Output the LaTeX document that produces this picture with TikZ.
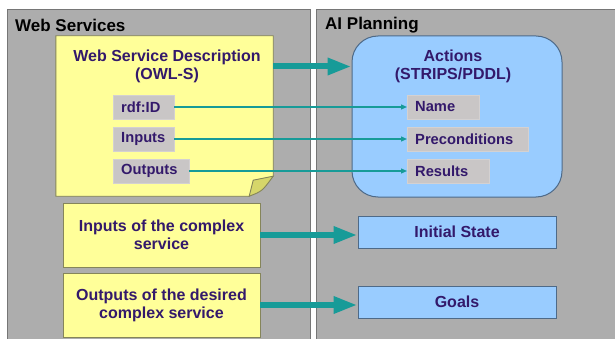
\documentclass[tikz,border=0pt]{standalone}
\usepackage{fontspec}
\setmainfont{Liberation Sans}
\usepackage{tikz}
\usetikzlibrary{arrows.meta,positioning}
\definecolor{panelgray}{HTML}{ADADAD}
\definecolor{paneledge}{HTML}{767676}
\definecolor{noteyellow}{HTML}{FFFF99}
\definecolor{noteedge}{HTML}{85855A}
\definecolor{flapyellow}{HTML}{D6D66A}
\definecolor{planblue}{HTML}{99CCFF}
\definecolor{planedge}{HTML}{4E6A88}
\definecolor{fieldgray}{HTML}{C9C6C6}
\definecolor{inkpurple}{HTML}{33196B}
\definecolor{teal}{HTML}{179B98}

\begin{document}
\begin{tikzpicture}[x=1pt, y=-1pt,
	panel/.style={fill=panelgray, draw=paneledge, line width=0.8pt},
	header/.style={anchor=west, inner sep=0pt, font=\fontsize{17}{19}\selectfont\bfseries},
	boxtext/.style={text=inkpurple, align=center, font=\fontsize{16}{18}\selectfont\bfseries},
	note/.style={minimum width=217pt, minimum height=160pt, inner sep=0pt},
	yellowbox/.style={boxtext, fill=noteyellow, draw=noteedge, line width=0.9pt, minimum width=197pt, minimum height=64pt},
	bluebox/.style={boxtext, fill=planblue, draw=planedge, line width=1pt, minimum width=198pt, minimum height=32pt},
	field/.style={anchor=west, fill=fieldgray, draw=fieldgray!80!white, text=inkpurple, align=left, inner xsep=8pt, minimum height=24pt, font=\fontsize{14.7}{16}\selectfont\bfseries},
	bigarrow/.style={draw=teal, line width=6pt, -{Triangle[length=24pt,width=16pt]}},
	thinarrow/.style={draw=teal, line width=1.3pt, -{Triangle[length=6pt,width=5pt]}}]
\useasboundingbox[fill=white] (0,0) rectangle (615,339);
\filldraw[panel] (7,9) rectangle (310,345);
\filldraw[panel] (316,9) rectangle (622,345);
\node[header] (websvc) at (15,25) {Web Services};
\node[header] (aiplan) at (325,25) {AI Planning};

% note with folded corner
\node[note] (wsd) at (164.5,116) {};
\filldraw[fill=noteyellow, draw=noteedge, line width=0.9pt] (wsd.north west) -- (wsd.north east) -- ([yshift=20pt]wsd.south east) -- ([xshift=-24pt]wsd.south east) -- (wsd.south west) -- cycle;
\filldraw[fill=flapyellow, draw=noteedge, line width=0.9pt] ([yshift=20pt]wsd.south east) -- ([xshift=-20pt,yshift=16pt]wsd.south east) -- ([xshift=-24pt]wsd.south east) .. controls ([xshift=-11pt,yshift=5pt]wsd.south east) .. ([yshift=20pt]wsd.south east) -- cycle;
\node[boxtext] (wsdtitle) at (167,66.5) {Web Service Description\\(OWL-S)};

\node[fill=planblue, draw=planedge, line width=1pt, rounded corners=26pt, minimum width=210pt, minimum height=161pt] (act) at (457,116.5) {};
\node[boxtext] (acttitle) at (453,66.5) {Actions\\(STRIPS/PDDL)};

\node[field, text width=45pt] (rdfid) at (113,107) {rdf:ID};
\node[field, text width=45pt] (inputs) at (113,139) {Inputs};
\node[field, text width=60pt] (outputs) at (113,171) {Outputs};
\node[field, text width=56pt] (name) at (407,107) {Name};
\node[field, text width=105pt] (precond) at (407,139) {Preconditions};
\node[field, text width=66pt] (results) at (407,171) {Results};

\node[yellowbox] (complexin) at (161.5,235) {Inputs of the complex\\service};
\node[yellowbox] (complexout) at (161.5,305) {Outputs of the desired\\complex service};
\node[bluebox] (init) at (457,232) {Initial State};
\node[bluebox] (goals) at (457,302) {Goals};

\draw[bigarrow] (wsdtitle.center -| wsd.east) -- (wsdtitle.center -| act.west);
\draw[bigarrow] (complexin) -- (complexin -| init.west);
\draw[bigarrow] (complexout) -- (complexout -| goals.west);
\draw[thinarrow] (rdfid) -- (name);
\draw[thinarrow] (inputs) -- (precond);
\draw[thinarrow] (outputs) -- (results);
\end{tikzpicture}
\end{document}
